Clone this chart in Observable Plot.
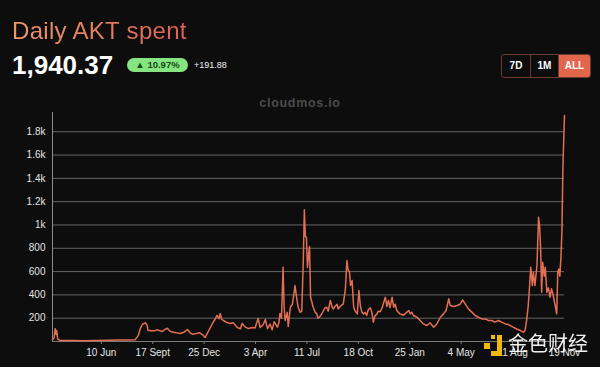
<!DOCTYPE html>
<html><head><meta charset="utf-8">
<script src="https://cdn.jsdelivr.net/npm/d3@7"></script>
<script src="https://cdn.jsdelivr.net/npm/@observablehq/plot@0.6"></script>
<style>
html,body{margin:0;padding:0;background:#0d0d0d;width:600px;height:367px;overflow:hidden;font-family:"Liberation Sans",Arial,sans-serif;}
#wrap{position:relative;width:600px;height:367px;}
#title{position:absolute;left:12px;top:17px;font-size:24px;line-height:28px;letter-spacing:0.3px;white-space:nowrap;background:linear-gradient(90deg,#eb9a6c 0%,#e47a5e 55%,#df6158 100%);-webkit-background-clip:text;background-clip:text;color:transparent;}
#value{position:absolute;left:12px;top:50px;font-size:26px;line-height:30px;font-weight:bold;color:#fff;}
#pill{position:absolute;left:127px;top:58px;width:61px;height:14px;border-radius:7px;background:#84e581;color:#184a18;font-size:9.5px;line-height:14px;text-align:center;font-weight:bold;}
#delta{position:absolute;left:194px;top:59px;font-size:9px;line-height:12px;color:#f2f2f2;}
#btns{position:absolute;left:501px;top:54px;height:22px;display:flex;border:1px solid #6b3b31;border-radius:3px;overflow:hidden;}
#btns div{height:22px;line-height:22px;font-size:10px;font-weight:bold;color:#fff;text-align:center;}
#brand{position:absolute;left:0;width:600px;top:96px;text-align:center;font-size:12.5px;font-weight:bold;letter-spacing:0.7px;color:#4b4b4b;}
#chart{position:absolute;left:0;top:100px;}
#wm{position:absolute;left:508px;top:331px;font-family:"Noto Sans CJK SC",sans-serif;font-size:20px;line-height:24px;color:#fff;opacity:0.93;}
.lg{position:absolute;background:#f0b90b;}
</style></head>
<body><div id="wrap">
<div id="title">Daily AKT spent</div>
<div id="value">1,940.37</div>
<div id="pill">▲ 10.97%</div>
<div id="delta">+191.88</div>
<div id="btns"><div style="width:28px;border-right:1px solid #6b3b31">7D</div><div style="width:27px;border-right:1px solid #6b3b31">1M</div><div style="width:31px;background:#e2664b">ALL</div></div>
<div id="brand">cloudmos.io</div>
<div id="chart"></div>
<div class="lg" style="left:484px;top:343px;width:6px;height:6px"></div>
<div class="lg" style="left:497px;top:335px;width:5px;height:21px"></div>
<div class="lg" style="left:491px;top:351px;width:11px;height:5px"></div>
<div class="lg" style="left:491px;top:335px;width:4px;height:4px"></div>
<div id="wm">金色财经</div>
</div>
<script>
const dates = [
"2021-03-08","2021-03-11","2021-03-13","2021-03-15","2021-03-16","2021-03-18","2021-03-23",
"2021-04-15","2021-05-10","2021-06-01","2021-06-25","2021-07-15","2021-08-01","2021-08-14",
"2021-08-20","2021-08-24","2021-08-28","2021-08-31","2021-09-03","2021-09-06","2021-09-08","2021-09-12","2021-09-16","2021-09-22","2021-09-26",
"2021-10-02","2021-10-05","2021-10-11","2021-10-15","2021-10-21","2021-10-27","2021-11-01","2021-11-09","2021-11-17","2021-11-23","2021-11-28",
"2021-12-02","2021-12-10","2021-12-16","2021-12-21","2021-12-27","2021-12-31",
"2022-01-06","2022-01-12","2022-01-15","2022-01-19","2022-01-23","2022-01-25","2022-01-28","2022-01-31",
"2022-02-06","2022-02-13","2022-02-19","2022-02-27","2022-03-05","2022-03-08","2022-03-14","2022-03-20","2022-03-28",
"2022-04-02","2022-04-08","2022-04-12","2022-04-18","2022-04-22","2022-04-26",
"2022-05-01","2022-05-05","2022-05-09","2022-05-15","2022-05-18","2022-05-20","2022-05-23","2022-05-26","2022-05-28","2022-05-30",
"2022-06-03","2022-06-05","2022-06-09","2022-06-13","2022-06-17","2022-06-18","2022-06-21","2022-06-24","2022-06-28",
"2022-07-01","2022-07-04","2022-07-06","2022-07-08","2022-07-10","2022-07-12","2022-07-15","2022-07-16","2022-07-18","2022-07-21","2022-07-23","2022-07-27","2022-07-30",
"2022-08-01","2022-08-05","2022-08-09","2022-08-12","2022-08-15","2022-08-18","2022-08-21","2022-08-25","2022-08-29","2022-08-31",
"2022-09-03","2022-09-07","2022-09-09","2022-09-13","2022-09-19","2022-09-23","2022-09-26","2022-09-28",
"2022-10-01","2022-10-03","2022-10-06","2022-10-09","2022-10-12","2022-10-16","2022-10-19","2022-10-22","2022-10-25","2022-10-28","2022-10-31",
"2022-11-03","2022-11-06","2022-11-10","2022-11-13","2022-11-16","2022-11-19","2022-11-23","2022-11-25","2022-11-29",
"2022-12-03","2022-12-05","2022-12-09","2022-12-12","2022-12-15","2022-12-18","2022-12-22","2022-12-25","2022-12-28","2022-12-31",
"2023-01-06","2023-01-13","2023-01-19","2023-01-23","2023-01-26","2023-01-29",
"2023-02-01","2023-02-08","2023-02-14","2023-02-20","2023-02-27",
"2023-03-05","2023-03-12","2023-03-18","2023-03-25","2023-03-31",
"2023-04-05","2023-04-10","2023-04-13","2023-04-19","2023-04-26",
"2023-05-02","2023-05-07","2023-05-12","2023-05-18","2023-05-25","2023-05-31",
"2023-06-06","2023-06-13","2023-06-19","2023-06-26",
"2023-07-02","2023-07-08","2023-07-15","2023-07-21","2023-07-28",
"2023-08-03","2023-08-12","2023-08-20","2023-08-26",
"2023-09-01","2023-09-04","2023-09-07","2023-09-10","2023-09-12","2023-09-15","2023-09-18","2023-09-20","2023-09-23","2023-09-27","2023-09-30",
"2023-10-02","2023-10-04","2023-10-06","2023-10-08","2023-10-11","2023-10-13","2023-10-16","2023-10-19","2023-10-22","2023-10-25","2023-10-28",
"2023-11-01","2023-11-04","2023-11-06","2023-11-08","2023-11-10","2023-11-12","2023-11-14","2023-11-16","2023-11-19"
];
const spent = [
15,30,110,60,95,20,8,
8,7,9,10,12,12,14,
50,110,146,155,160,140,94,95,90,95,100,
90,85,105,114,86,80,75,69,82,103,75,
63,68,75,62,34,70,
120,170,189,225,195,240,190,180,
165,154,160,120,110,154,125,111,120,
115,197,120,146,190,110,
150,100,170,123,160,240,200,637,300,180,
250,130,294,320,440,480,380,294,250,
260,700,1130,900,895,637,780,815,380,330,294,250,237,
200,214,240,266,290,294,260,352,290,280,
300,320,280,300,323,450,695,620,
595,480,523,294,260,237,437,300,250,237,250,
223,270,290,250,166,220,237,260,255,
290,323,380,300,352,290,380,294,320,266,
237,225,250,266,237,250,
223,208,180,151,137,
160,123,150,208,237,
266,366,309,300,309,
320,357,320,280,250,223,
208,194,194,180,
180,166,180,166,151,
145,123,105,94,
80,95,180,300,425,637,480,595,480,652,1066,
995,795,423,680,560,637,423,460,380,452,400,
309,237,595,623,560,709,938,1510,1940
];
const yTicks = [200,400,600,800,1000,1200,1400,1600,1800];
const xTickDates = ["2021-06-10","2021-09-17","2021-12-25","2022-04-03","2022-07-11","2022-10-18","2023-01-25","2023-05-04","2023-08-11","2023-11-19"];
const xTickLabels = ["10 Jun","17 Sept","25 Dec","3 Apr","11 Jul","18 Oct","25 Jan","4 May","11 Aug","19 Nov"];

const data = dates.map((d, i) => ({date: new Date(d), v: spent[i]}));
const tickDates = xTickDates.map(d => new Date(d));
const labelMap = new Map(tickDates.map((d, i) => [+d, xTickLabels[i]]));
const x0 = new Date("2021-03-08"), x1 = new Date("2023-11-19");

const chart = Plot.plot({
  width: 600, height: 267,
  marginTop: 12, marginBottom: 26, marginLeft: 52, marginRight: 36,
  style: {background: "transparent", color: "#e4e4e4", fontSize: "10px", fontFamily: "Liberation Sans, Arial, sans-serif"},
  x: {type: "utc", domain: [x0, x1]},
  y: {domain: [0, 1965]},
  marks: [
    Plot.gridY(yTicks, {stroke: "#646464", strokeOpacity: 1, strokeWidth: 1}),
    Plot.ruleY([0], {stroke: "#7a7a7a"}),
    Plot.ruleX([x0], {stroke: "#8a8a8a"}),
    Plot.line(data, {x: "date", y: "v", stroke: "#e36f52", strokeWidth: 1.5}),
    Plot.axisY(yTicks, {tickSize: 0, tickPadding: 7, fill: "#e4e4e4", label: null,
      tickFormat: d => d >= 1000 ? (d / 1000) + "k" : String(d)}),
    Plot.axisX(tickDates, {tickSize: 3, tickPadding: 4, stroke: "#7a7a7a", fill: "#e4e4e4", label: null,
      tickFormat: d => labelMap.get(+d)})
  ]
});
document.getElementById("chart").appendChild(chart);
</script>
</body></html>
